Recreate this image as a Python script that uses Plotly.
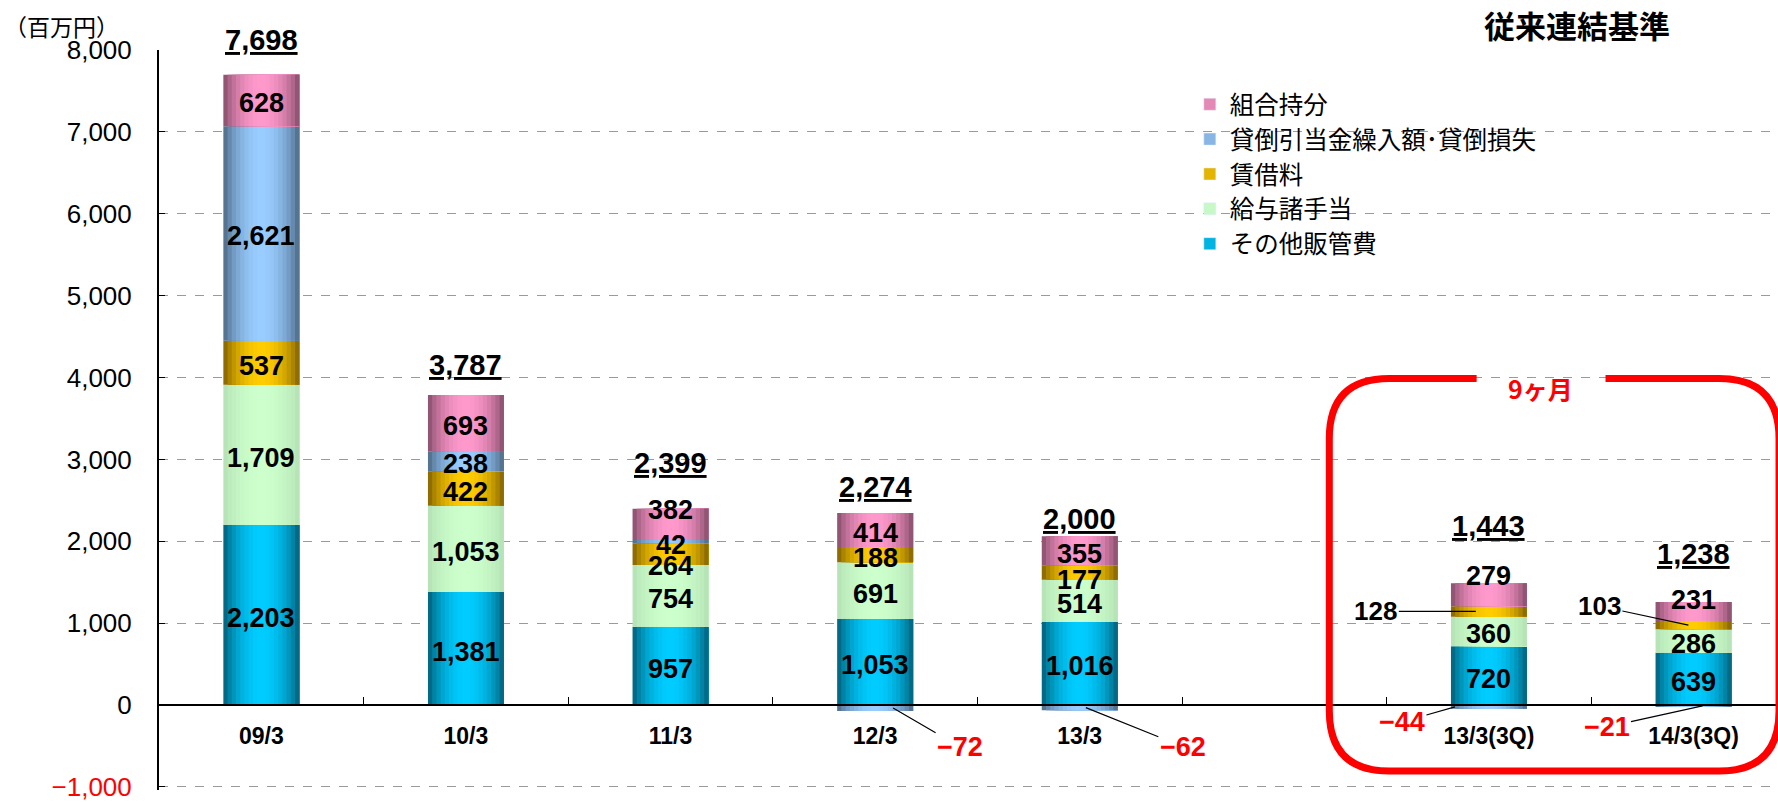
import plotly.graph_objects as go
import numpy as np

# ---------------- data ----------------
categories = ["09/3", "10/3", "11/3", "12/3", "13/3", " ", "13/3(3Q)", "14/3(3Q)"]
other_sga = [2203, 1381, 957, 1053, 1016, None, 720, 639]      # その他販管費
salaries = [1709, 1053, 754, 691, 514, None, 360, 286]          # 給与諸手当
rent = [537, 422, 264, 188, 177, None, 128, 103]                # 賃借料
bad_debt = [2621, 238, 42, -72, -62, None, -44, -21]            # 貸倒引当金繰入額・貸倒損失
partnership = [628, 693, 382, 414, 355, None, 279, 231]         # 組合持分
totals = [7698, 3787, 2399, 2274, 2000, None, 1443, 1238]

series_names = ["その他販管費", "給与諸手当", "賃借料", "貸倒引当金繰入額･貸倒損失", "組合持分"]
series_values = [other_sga, salaries, rent, bad_debt, partnership]

y_tick_vals = [-1000, 0, 1000, 2000, 3000, 4000, 5000, 6000, 7000, 8000]

# ---------------- style ----------------
center_cols = [(0, 204, 255), (204, 255, 204), (255, 204, 0), (153, 204, 255), (255, 153, 204)]
edge_cols = [(0, 84, 108), (178, 222, 178), (118, 88, 0), (70, 96, 122), (122, 70, 96)]
NUM_FONT = "Liberation Sans, Arial, sans-serif"
JP_FONT = "Noto Sans CJK JP, sans-serif"
BAR_W = 0.371
N_STRIPS = 18
Y_RANGE = [-1037, 8000]

fig = go.Figure()

n = len(categories)
pos_cum = np.zeros(n)
neg_cum = np.zeros(n)
bases, mids = [], []
for vals in series_values:
    b, m = [], []
    for i, v in enumerate(vals):
        if v is None:
            b.append(None); m.append(None); continue
        if v >= 0:
            b.append(pos_cum[i]); m.append(pos_cum[i] + v / 2); pos_cum[i] += v
        else:
            b.append(neg_cum[i]); m.append(neg_cum[i] + v / 2); neg_cum[i] += v
    bases.append(b); mids.append(m)


def mix(c1, c2, f):
    return "rgb(%d,%d,%d)" % tuple(round(a * (1 - f) + b * f) for a, b in zip(c1, c2))


sw = BAR_W / N_STRIPS
for s, vals in enumerate(series_values):
    for k in range(N_STRIPS):
        t = (k + 0.5) / N_STRIPS
        f = np.sin(np.pi * t) ** 0.7
        w = BAR_W - k * sw          # each strip runs to the right edge; later strips overlay
        fig.add_trace(go.Bar(
            x=categories, y=vals, base=bases[s],
            width=[w] * n, offset=[-BAR_W / 2 + k * sw] * n,
            marker=dict(color=mix(edge_cols[s], center_cols[s], f), line=dict(width=0)),
            showlegend=False, hoverinfo="skip",
        ))

# legend entries
for s, name in enumerate(series_names):
    fig.add_trace(go.Bar(
        x=[categories[0]], y=[None], name=name,
        marker=dict(color=mix(edge_cols[s], center_cols[s], 0.8)),
        showlegend=True, legendrank=100 - s,
    ))

annotations = []

# segment labels (inside)
label_shift = {(4, 2): 14, (2, 2): -12, (2, 4): -7, (4, 6): 19, (4, 7): 11}
for s, vals in enumerate(series_values):
    for i, v in enumerate(vals):
        if v is None or v < 0:
            continue
        if s == 2 and i >= 6:
            continue
        annotations.append(dict(
            x=i, y=mids[s][i], xref="x", yref="y", text=f"{v:,}", showarrow=False,
            yshift=label_shift.get((s, i), -3),
            font=dict(family=NUM_FONT, size=27, color="black", weight="bold"),
        ))

# leader-line labels (rent in 9-month columns)
rent_leaders = {6: (-0.064, -100, 0), 7: (-0.025, -89, -19)}
for i, (dx, ax, ay) in rent_leaders.items():
    annotations.append(dict(
        x=i + dx, y=mids[2][i], xref="x", yref="y", text=f"{rent[i]:,}",
        showarrow=True, arrowhead=0, arrowwidth=1.2, arrowcolor="black",
        ax=ax, ay=ay, standoff=0,
        font=dict(family=NUM_FONT, size=26, color="black", weight="bold"),
    ))

# negative bad-debt labels
neg_leaders = {3: (0.088, 67, 39), 4: (0.03, 97, 39), 6: (-0.166, -53, 15), 7: (0.044, -96, 21)}
for i, (dx, ax, ay) in neg_leaders.items():
    annotations.append(dict(
        x=i + dx, y=mids[3][i], xref="x", yref="y", text="−" + f"{abs(bad_debt[i]):,}",
        showarrow=True, arrowhead=0, arrowwidth=1.2, arrowcolor="black",
        ax=ax, ay=ay, standoff=0,
        font=dict(family=NUM_FONT, size=27, color="red", weight="bold"),
    ))

# totals
total_lift = [35, 30, 46, 26, 17, None, 57, 48]
for i, tv in enumerate(totals):
    if tv is None:
        continue
    annotations.append(dict(
        x=i, y=pos_cum[i], xref="x", yref="y", text=f"<u>{tv:,}</u>", showarrow=False,
        yanchor="middle", yshift=total_lift[i],
        font=dict(family=NUM_FONT, size=29, color="black", weight="bold"),
    ))

# texts
annotations.append(dict(x=0.876, y=1.035, xref="paper", yref="paper", text="従来連結基準",
                        xanchor="center", yanchor="middle",
                        showarrow=False, font=dict(family=JP_FONT, size=31, color="black", weight="bold")))
annotations.append(dict(x=-0.06, y=1.033, xref="paper", yref="paper", text="（百万円）",
                        xanchor="center", yanchor="middle",
                        showarrow=False, font=dict(family=JP_FONT, size=23, color="black")))
annotations.append(dict(x=6.25, y=3878, xref="x", yref="y", text="9ヶ月",
                        xanchor="center", yanchor="middle",
                        showarrow=False, font=dict(family=JP_FONT, size=25, color="red", weight="bold")))

# rounded frame for 9-month figures
L, R, T, B = 5.22, 7.418, 3988, -805
rx, ry = 0.293, 732
g1, g2 = 5.94, 6.57
path = (f"M {g1},{T} L {L+rx},{T} Q {L},{T} {L},{T-ry} L {L},{B+ry} Q {L},{B} {L+rx},{B} "
        f"L {R-rx},{B} Q {R},{B} {R},{B+ry} L {R},{T-ry} Q {R},{T} {R-rx},{T} L {g2},{T}")
shapes = [dict(type="path", path=path, xref="x", yref="y", line=dict(color="red", width=7))]

ytext = [("<span style='color:red'>−1,000</span>" if v < 0 else f"{v:,}") for v in y_tick_vals]

fig.update_layout(
    width=1778, height=802,
    margin=dict(l=159, r=0, t=50, b=10),
    paper_bgcolor="white", plot_bgcolor="white",
    barmode="overlay",
    annotations=annotations, shapes=shapes,
    legend=dict(x=0.6367, y=0.957, xanchor="left", yanchor="top",
                font=dict(family=JP_FONT, size=24.5, color="black"),
                bgcolor="rgba(0,0,0,0)", tracegroupgap=0, itemwidth=30),
    xaxis=dict(
        type="category", categoryorder="array", categoryarray=categories,
        range=[-0.5, 7.413], anchor="free", position=-Y_RANGE[0] / (Y_RANGE[1] - Y_RANGE[0]),
        showline=True, linecolor="black", linewidth=2,
        ticks="inside", tickson="boundaries", ticklen=7, tickcolor="black", tickwidth=1,
        showgrid=False, ticklabelstandoff=10,
        tickfont=dict(family=NUM_FONT, size=23, color="black", weight="bold"),
    ),
    yaxis=dict(
        range=Y_RANGE, tickvals=y_tick_vals, ticktext=ytext,
        showline=True, linecolor="black", linewidth=2,
        ticks="inside", ticklen=6, tickcolor="black",
        showgrid=True, gridcolor="#9a9a9a", griddash="dash", gridwidth=1,
        zeroline=False, ticklabelstandoff=20, ticklabeloverflow="allow",
        tickfont=dict(family=NUM_FONT, size=26, color="black"),
    ),
)

fig.write_html("out.html", config={"displayModeBar": False},
               post_script="document.body.style.margin='0px';document.body.style.overflow='hidden';")
